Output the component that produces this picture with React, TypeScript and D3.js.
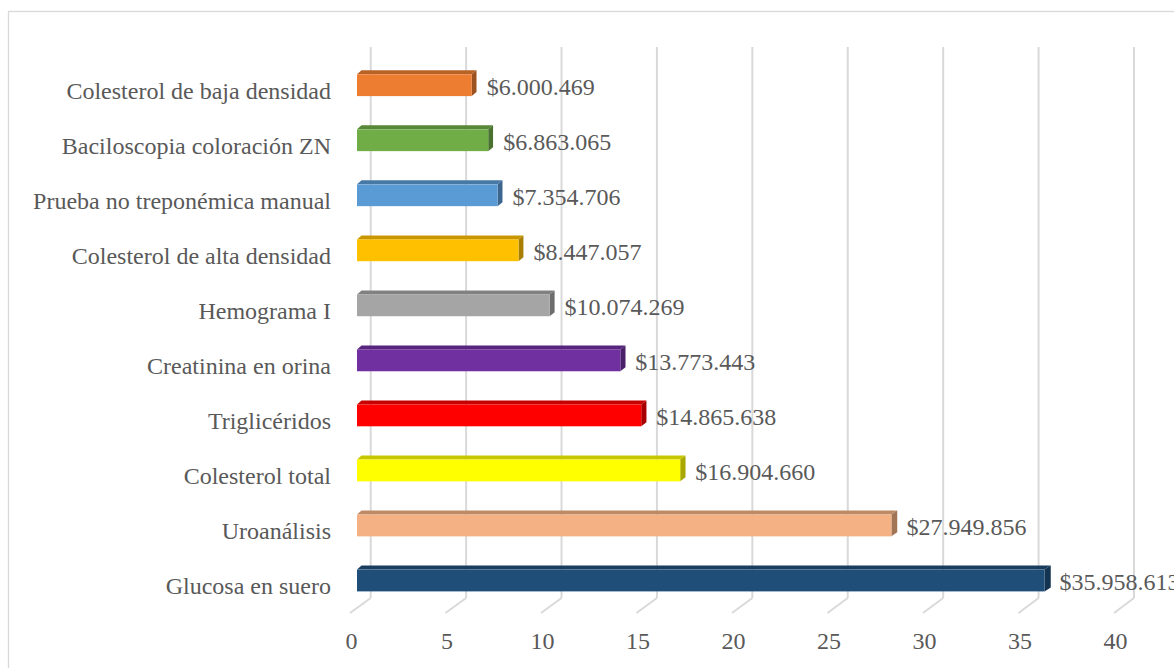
import React from "react";
import * as d3 from "d3";

const categories = [
  "Colesterol de baja densidad",
  "Baciloscopia coloración ZN",
  "Prueba no treponémica manual",
  "Colesterol de alta densidad",
  "Hemograma I",
  "Creatinina en orina",
  "Triglicéridos",
  "Colesterol total",
  "Uroanálisis",
  "Glucosa en suero",
];
const values = [6000469, 6863065, 7354706, 8447057, 10074269, 13773443, 14865638, 16904660, 27949856, 35958613];
const valueLabels = [
  "$6.000.469",
  "$6.863.065",
  "$7.354.706",
  "$8.447.057",
  "$10.074.269",
  "$13.773.443",
  "$14.865.638",
  "$16.904.660",
  "$27.949.856",
  "$35.958.613",
];
const colors = ["#ED7D31", "#70AD47", "#5B9BD5", "#FFC000", "#A5A5A5", "#7030A0", "#FF0000", "#FFFF00", "#F4B183", "#1F4E79"];
const ticks = [0, 5, 10, 15, 20, 25, 30, 35, 40];

const W = 1174;
const H = 668;
const FONT = "'Liberation Serif', 'Times New Roman', serif";
const TEXT = "#595959";
const GRID = "#D9D9D9";

function shade(c: string, f: number) {
  const col = d3.rgb(c);
  return d3.rgb(col.r * f, col.g * f, col.b * f).formatHex();
}

export default function App() {
  const millions = values.map((v) => v / 1e6);
  // back wall, floor front and bar front x scales
  const xBack = d3.scaleLinear().domain([0, 40]).range([370.7, 1134]);
  const xFloor = d3.scaleLinear().domain([0, 40]).range([350, 1114]);
  const xBar = d3.scaleLinear().domain([0, 40]).range([357, 1121.8]);
  const y = d3.scalePoint<string>().domain(categories).range([85.2, 580.5]);

  const wallTop = 47;
  const wallBottom = 598;
  const floorFront = 613;
  const half = 10.9;
  const dy = 4;

  return (
    <svg width={W} height={H} style={{ position: "absolute", left: 0, top: 0, background: "#fff" }}>
      <rect x={8.5} y={11.5} width={1200} height={700} fill="#fff" stroke={GRID} strokeWidth={1.3} />
      {ticks.map((t) => (
        <g key={t}>
          <line x1={xBack(t)} x2={xBack(t)} y1={wallTop} y2={wallBottom} stroke={GRID} strokeWidth={2} />
          <line x1={xBack(t)} x2={xFloor(t)} y1={wallBottom} y2={floorFront} stroke={GRID} strokeWidth={2} />
          <text x={xFloor(t) + 1.5} y={649} textAnchor="middle" fontFamily={FONT} fontSize={24} fill={TEXT}>
            {t}
          </text>
        </g>
      ))}
      {categories.map((c, i) => {
        const cy = y(c)!;
        const x0 = xBar(0);
        const x1 = xBar(millions[i]);
        const dx0 = 4.5;
        const dx1 = 4.5 + (x1 - x0) * 0.0025;
        const top = cy - half;
        const bot = cy + half;
        const col = colors[i];
        return (
          <g key={c}>
            <polygon
              points={`${x0},${top} ${x0 + dx0},${top - dy} ${x1 + dx1},${top - dy} ${x1},${top}`}
              fill={shade(col, 0.78)}
            />
            <polygon
              points={`${x1},${top} ${x1 + dx1},${top - dy} ${x1 + dx1},${bot - dy} ${x1},${bot}`}
              fill={shade(col, 0.66)}
            />
            <rect x={x0} y={top} width={x1 - x0} height={bot - top} fill={col} />
            <text x={331} y={cy + 13.5} textAnchor="end" fontFamily={FONT} fontSize={24} fill={TEXT}>
              {c}
            </text>
            <text x={x1 + 15} y={cy + 9.5} fontFamily={FONT} fontSize={24} fill={TEXT}>
              {valueLabels[i]}
            </text>
          </g>
        );
      })}
    </svg>
  );
}
